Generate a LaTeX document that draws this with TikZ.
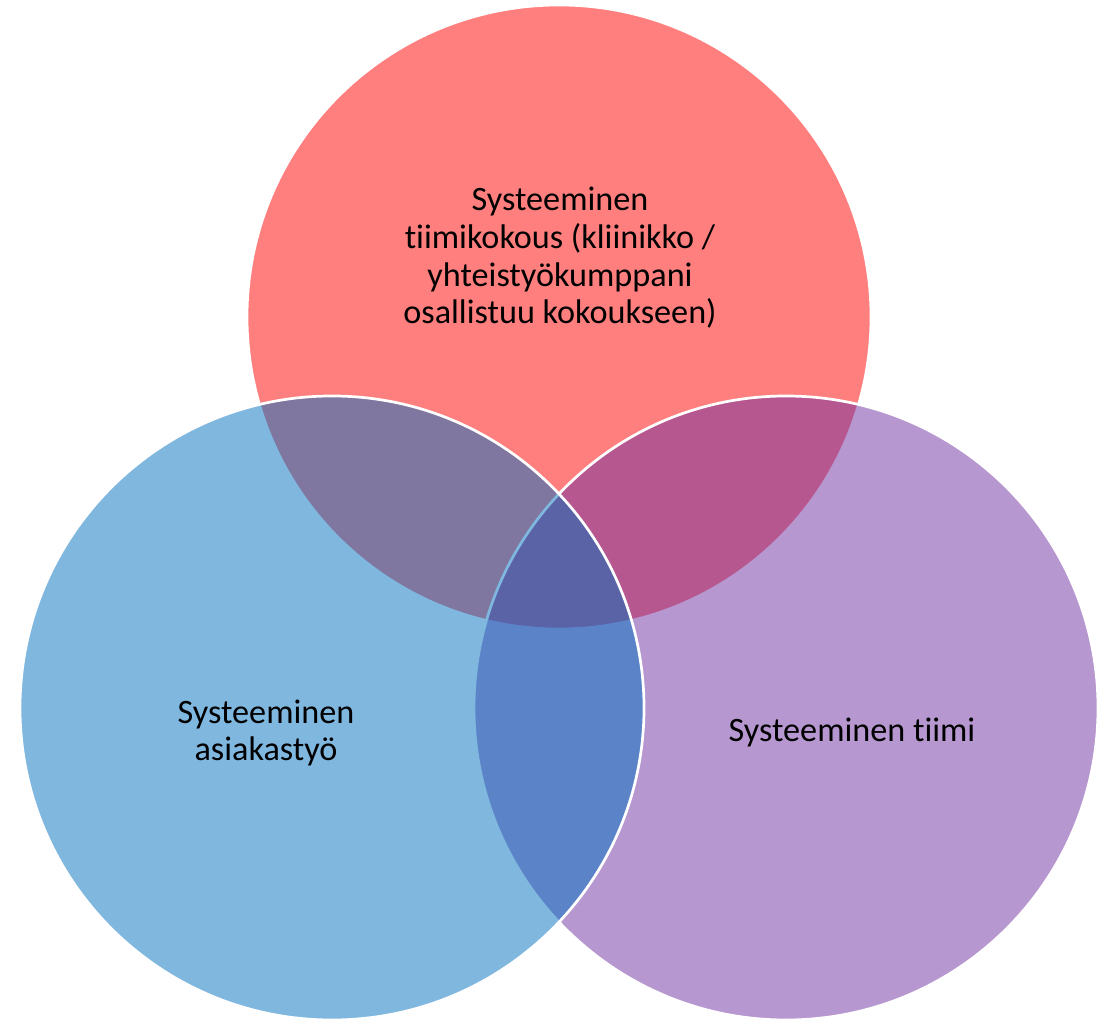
\documentclass[tikz,border=0pt]{standalone}
\usepackage{fontspec}
\setmainfont[Ligatures=NoCommon]{Carlito}
\definecolor{vennred}{HTML}{FF0000}
\definecolor{vennblue}{HTML}{0070C0}
\definecolor{vennpurple}{HTML}{7030A0}
\tikzset{
  venn/.style={fill=#1,fill opacity=0.5,draw=white,line width=1.35pt},
  lbl/.style={align=center,text=black,inner sep=0pt,font=\fontsize{17.1}{18.85}\selectfont}
}
\begin{document}
\begin{tikzpicture}[x=0.5pt,y=0.5pt]
    \useasboundingbox (0,0) rectangle (1107,1021);
    %% circles (red, then purple, then blue on top)
    \draw[venn=vennred] (559,704) circle[radius=312];
    \draw[venn=vennpurple] (786,313) circle[radius=312];
    \draw[venn=vennblue] (332,313) circle[radius=312];
    %% labels
    \node[lbl] (kokous) at (560,763) {Systeeminen\\tiimikokous (kliinikko /\\yhteistyökumppani\\osallistuu kokoukseen)};
    \node[lbl] (asiakas) at (266,288) {Systeeminen\\asiakastyö};
    \node[lbl,anchor=base] (tiimi) at (852,279) {Systeeminen tiimi};
\end{tikzpicture}
\end{document}
